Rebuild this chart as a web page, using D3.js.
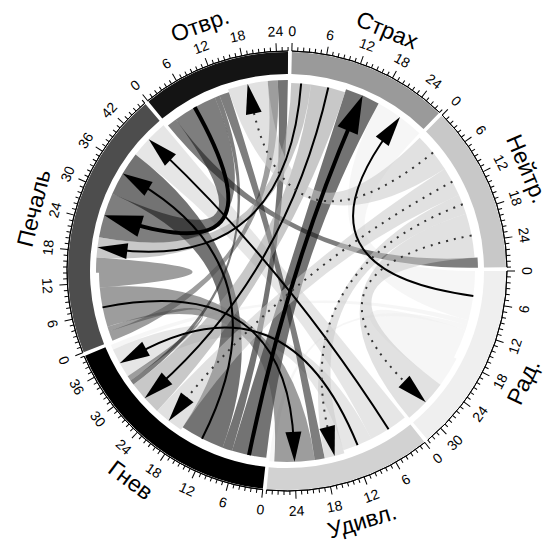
<!DOCTYPE html>
<html>
<head>
<meta charset="utf-8">
<script src="https://cdn.jsdelivr.net/npm/d3@7"></script>
<style>
  body { margin: 0; background: #fff; }
  text { font-family: "Liberation Sans", Arial, sans-serif; fill: #000; }
</style>
</head>
<body>
<svg id="chart" width="544" height="549"></svg>
<script>
// sectors in drawing order (clockwise from 3 o'clock)
const sectors = ["Рад.", "Удивл.", "Гнев", "Печаль", "Отвр.", "Страх", "Нейтр."];

// transitions: from -> to, size, and marking level (0 none, 1 dotted, 2 line, 3 strong)
const linkFrom = ["Рад.", "Рад.", "Рад.", "Рад.",
  "Удивл.", "Удивл.",
  "Гнев", "Гнев", "Гнев",
  "Печаль", "Печаль", "Печаль", "Печаль",
  "Отвр.", "Отвр.", "Отвр.", "Отвр.",
  "Страх", "Страх",
  "Нейтр.", "Нейтр.", "Нейтр.", "Нейтр."];
const linkTo = ["Рад.", "Удивл.", "Гнев", "Страх",
  "Гнев", "Печаль",
  "Печаль", "Отвр.", "Страх",
  "Удивл.", "Гнев", "Печаль", "Отвр.",
  "Удивл.", "Гнев", "Печаль", "Нейтр.",
  "Гнев", "Печаль",
  "Рад.", "Удивл.", "Гнев", "Отвр."];
const linkValue = [6, 1, 1, 10,
  6, 8,
  9, 2, 7,
  8, 1, 3, 2,
  2, 1, 9, 2,
  7, 4,
  9, 4, 6, 8];
const linkLevel = [0, 0, 0, 2,
  2, 2,
  2, 0, 3,
  2, 0, 0, 0,
  0, 0, 3, 0,
  2, 2,
  1, 1, 1, 1];

const tickStep = 6;

// look
const grays = ["#efefef", "#d2d2d2", "#000000", "#4d4d4d", "#141414", "#9a9a9a", "#c8c8c8"];
const cx = 287, cy = 271;
const rOuter = 219, rInner = 197, rTarget = 191, rSource = 188;
const gapDeg = 1;

const svg = d3.select("#chart");
const g = svg.append("g").attr("transform", `translate(${cx},${cy})`);

const n = sectors.length;
const links = linkValue.map((v, i) => ({
  s: sectors.indexOf(linkFrom[i]),
  t: sectors.indexOf(linkTo[i]),
  value: v,
  level: linkLevel[i]
}));

const size = sectors.map((_, i) =>
  d3.sum(links, l => (l.s === i ? l.value : 0) + (l.t === i ? l.value : 0)));
const degPerUnit = (360 - n * gapDeg) / d3.sum(size);

// one angle scale per sector
let a0 = 90;
const scales = size.map(s => {
  const sc = d3.scaleLinear()
    .domain([0, s])
    .range([a0, a0 + s * degPerUnit].map(d => d * Math.PI / 180));
  a0 += s * degPerUnit + gapDeg;
  return sc;
});

// place link ends: outgoing first, then incoming (self links in the middle)
sectors.forEach((_, i) => {
  let pos = 0;
  links.filter(l => l.s === i)
    .sort((p, q) => (p.t === i) - (q.t === i) || q.t - p.t)
    .forEach(l => { l.src = [pos, pos + l.value]; pos += l.value; });
  links.filter(l => l.t === i)
    .sort((p, q) => (q.s === i) - (p.s === i) || q.s - p.s)
    .forEach(l => { l.tgt = [pos, pos + l.value]; pos += l.value; });
});

const ribbon = d3.ribbon().sourceRadius(rSource).targetRadius(rTarget);

g.append("g").selectAll("path")
  .data(links)
  .join("path")
  .attr("d", l => ribbon({
    source: { startAngle: scales[l.s](l.src[0]), endAngle: scales[l.s](l.src[1]) },
    target: { startAngle: scales[l.t](l.tgt[0]), endAngle: scales[l.t](l.tgt[1]) }
  }))
  .attr("fill", l => grays[l.s])
  .attr("fill-opacity", 0.55);

// arrows
const pt = (r, a) => [r * Math.sin(a), -r * Math.cos(a)];
const arrows = g.append("g");
links.filter(l => l.level > 0).forEach(l => {
  const sa = scales[l.s]((l.src[0] + l.src[1]) / 2);
  const ta = scales[l.t]((l.tgt[0] + l.tgt[1]) / 2);
  const len = l.level === 3 ? 38 : 30;
  const hw = l.level === 3 ? 11 : 8;
  const p0 = pt(rSource, sa);
  const p1 = pt(rTarget - len * 0.6, ta);
  const p = d3.path();
  p.moveTo(p0[0], p0[1]);
  p.quadraticCurveTo(0, 0, p1[0], p1[1]);
  arrows.append("path")
    .attr("d", p.toString())
    .attr("fill", "none")
    .attr("stroke", l.level === 1 ? "#333" : "#000")
    .attr("stroke-width", l.level === 3 ? 4 : 2)
    .attr("stroke-dasharray", l.level === 1 ? "2,6" : null);
  const tip = pt(rTarget, ta), base = pt(rTarget - len, ta);
  const v = [Math.cos(ta), Math.sin(ta)];
  arrows.append("path")
    .attr("d", `M${tip}L${base[0] + v[0] * hw},${base[1] + v[1] * hw}L${base[0] - v[0] * hw},${base[1] - v[1] * hw}Z`)
    .attr("fill", "#000");
});

// sector ring
const arc = d3.arc().innerRadius(rInner).outerRadius(rOuter);
g.append("g").selectAll("path")
  .data(sectors)
  .join("path")
  .attr("d", (d, i) => arc({ startAngle: scales[i].range()[0], endAngle: scales[i].range()[1] }))
  .attr("fill", (d, i) => grays[i]);

// axes with ticks
const deg = r => r * 180 / Math.PI;
const upright = a => { const d = (deg(a) % 360 + 360) % 360; return d > 90 && d < 270 ? 180 : 0; };
const axisArc = d3.arc().innerRadius(rOuter + 1).outerRadius(rOuter + 1);
const axes = g.append("g");
sectors.forEach((name, i) => {
  const sc = scales[i];
  axes.append("path")
    .attr("d", axisArc({ startAngle: sc.range()[0], endAngle: sc.range()[1] }))
    .attr("fill", "none")
    .attr("stroke", "#000")
    .attr("stroke-width", 1);
  d3.range(0, Math.floor(size[i]) + 1).forEach(v => {
    const major = v % tickStep === 0;
    axes.append("line")
      .attr("transform", `rotate(${deg(sc(v))})`)
      .attr("y1", -(rOuter + 1))
      .attr("y2", -(rOuter + 1 + (major ? 8 : 4)))
      .attr("stroke", "#000")
      .attr("stroke-width", 1);
    if (major) {
      axes.append("text")
        .attr("transform", `rotate(${deg(sc(v))}) translate(0,${-(rOuter + 21)}) rotate(${upright(sc(v))})`)
        .attr("text-anchor", "middle")
        .attr("dominant-baseline", "central")
        .attr("font-size", 14)
        .text(v);
    }
  });
  const mid = (sc.range()[0] + sc.range()[1]) / 2;
  axes.append("text")
    .attr("transform", `rotate(${deg(mid)}) translate(0,${-(rOuter + 42)}) rotate(${upright(mid)})`)
    .attr("text-anchor", "middle")
    .attr("dominant-baseline", "central")
    .attr("font-size", 23)
    .text(name);
});
</script>
</body>
</html>
